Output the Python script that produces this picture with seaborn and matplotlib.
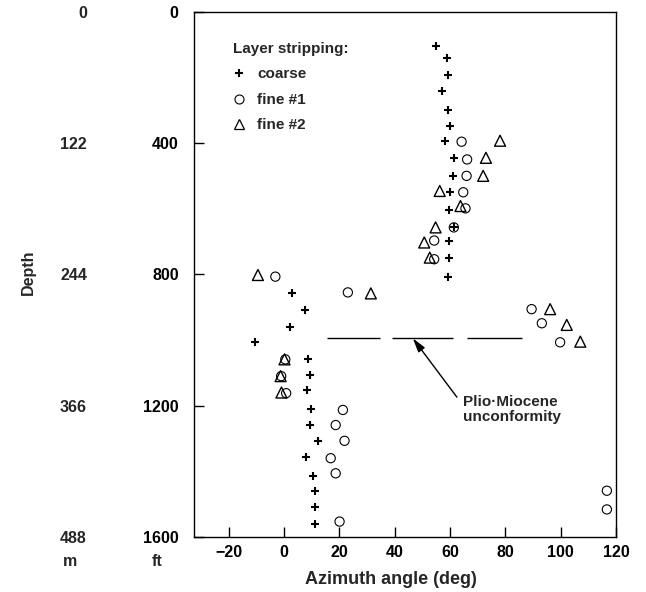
import matplotlib
matplotlib.use("Agg")
import matplotlib.pyplot as plt
import matplotlib.transforms as mtransforms
from matplotlib.lines import Line2D
import seaborn as sns

sns.set_theme(style="ticks")
plt.rcParams["font.family"] = ["Liberation Sans", "DejaVu Sans"]
plt.rcParams["font.weight"] = "bold"
plt.rcParams["axes.labelweight"] = "bold"

# Azimuth estimates versus depth (ft) for three layer-stripping passes
coarse_depth = [104, 142, 193, 241, 299, 348, 393, 447, 499, 550, 605, 657,
                697, 750, 807, 858, 909, 961, 1005, 1058, 1107, 1152, 1211,
                1259, 1307, 1357, 1413, 1459, 1508, 1561]
coarse_azimuth = [55.1, 58.8, 59.3, 57.2, 59.3, 60.0, 58.1, 61.4, 61.2, 60.0,
                  59.6, 61.4, 59.6, 59.6, 59.3, 2.9, 7.5, 2.3, -10.6, 8.7,
                  9.6, 8.3, 9.9, 9.3, 12.3, 7.8, 10.5, 11.4, 11.4, 11.1]

fine1_depth = [396, 450, 500, 550, 599, 657, 697, 754, 807, 855, 906, 949,
               1007, 1059, 1110, 1162, 1213, 1259, 1307, 1360, 1406, 1459,
               1516, 1553]
fine1_azimuth = [64.2, 66.2, 66.0, 64.8, 65.6, 61.4, 54.3, 54.3, -3.1, 23.1,
                 89.5, 93.2, 99.8, 0.5, -1.0, 0.8, 21.3, 18.7, 21.9, 16.9,
                 18.7, 116.7, 116.7, 20.1]

fine2_depth = [393, 445, 500, 546, 592, 657, 703, 749, 802, 858, 906, 954,
               1005, 1059, 1110, 1160]
fine2_azimuth = [78.1, 73.0, 72.0, 56.3, 63.8, 54.8, 50.7, 52.7, -9.4, 31.4,
                 96.2, 102.2, 107.1, 0.2, -1.2, -0.9]

series_labels = ["coarse", "fine #1", "fine #2"]
legend_title = "Layer stripping:"

depth_ticks_ft = [0, 400, 800, 1200, 1600]
depth_labels_m = ["0", "122", "244", "366", "488"]
azimuth_ticks = [-20, 0, 20, 40, 60, 80, 100, 120]

unconformity_depth = 995
unconformity_segments = [(15.7, 34.8), (39.2, 61.0), (66.2, 86.0)]
unconformity_label = "Plio\u00b7Miocene\nunconformity"
arrow_tip = (46.6, 995)
arrow_tail = (62.5, 1174)
label_anchor = (64.7, 1212)

W, H = 646, 592
fig = plt.figure(figsize=(W / 100, H / 100), dpi=100)
ax = fig.add_axes([194 / W, 1 - 537 / H, (616 - 194) / W, (537 - 11.7) / H])

sns.scatterplot(x=coarse_azimuth, y=coarse_depth, marker="+", s=36,
                color="black", linewidth=1.5, ax=ax, legend=False, zorder=3)
sns.scatterplot(x=fine1_azimuth, y=fine1_depth, marker="o", s=44,
                facecolor="none", edgecolor="black", linewidth=0.8, ax=ax,
                legend=False, zorder=3)
sns.scatterplot(x=fine2_azimuth, y=fine2_depth, marker="^", s=62,
                facecolor="none", edgecolor="black", linewidth=1.0, ax=ax,
                legend=False, zorder=3)

# dashed unconformity marker
for x0, x1 in unconformity_segments:
    ax.plot([x0, x1], [unconformity_depth, unconformity_depth],
            color="black", lw=1.0, solid_capstyle="butt")

ax.annotate("", xy=arrow_tip, xytext=arrow_tail,
            arrowprops=dict(arrowstyle="-|>,head_length=0.7,head_width=0.2",
                            color="black", lw=1.0, shrinkA=0, shrinkB=0))
ax.text(*label_anchor, unconformity_label, ha="left", va="center",
        fontsize=11, fontweight="bold", linespacing=1.05)

ax.set_xlim(-32.5, 120)
ax.set_ylim(1600, 0)
ax.set_xticks(azimuth_ticks)
ax.set_xticklabels([f"{t}" if t >= 0 else f"\u2212{abs(t)}" for t in azimuth_ticks])
ax.set_yticks(depth_ticks_ft)
ax.set_yticklabels([str(t) for t in depth_ticks_ft])
ax.tick_params(axis="both", direction="in", length=7, width=1.0,
               labelsize=11.5, colors="black")
ax.tick_params(axis="y", pad=11)
ax.tick_params(axis="x", pad=6)
for lbl in ax.get_xticklabels() + ax.get_yticklabels():
    lbl.set_fontweight("bold")
for sp in ax.spines.values():
    sp.set_linewidth(1.0)
    sp.set_color("black")
ax.set_xlabel("")
ax.set_ylabel("")

# metric depth column
trans = mtransforms.blended_transform_factory(fig.transFigure, ax.transData)
for ft, m in zip(depth_ticks_ft, depth_labels_m):
    fig.text(87 / W, ft, m, transform=trans, ha="right", va="center_baseline",
             fontsize=11.5, fontweight="bold")

fig.text(70 / W, 1 - 562 / H, "m", ha="center", va="center",
         fontsize=11.5, fontweight="bold")
fig.text(157 / W, 1 - 562 / H, "ft", ha="center", va="center",
         fontsize=11.5, fontweight="bold")
fig.text(28 / W, 1 - 272 / H, "Depth", rotation=90, ha="center", va="center",
         fontsize=11.5, fontweight="bold")
fig.text(391 / W, 1 - 579 / H, "Azimuth angle (deg)", ha="center",
         va="center", fontsize=13, fontweight="bold")

handles = [
    Line2D([], [], marker="+", color="black", linestyle="none",
           markersize=6, markeredgewidth=1.5),
    Line2D([], [], marker="o", markerfacecolor="none", markeredgecolor="black",
           linestyle="none", markersize=6.5, markeredgewidth=0.8),
    Line2D([], [], marker="^", markerfacecolor="none", markeredgecolor="black",
           linestyle="none", markersize=7, markeredgewidth=0.9),
]
leg = ax.legend(handles, series_labels, title=legend_title,
                loc="upper left", bbox_to_anchor=(233 / W, 1 - 42 / H),
                bbox_transform=fig.transFigure, frameon=False,
                borderpad=0, borderaxespad=0, handlelength=0.8,
                handletextpad=0.8, labelspacing=0.75, alignment="left",
                prop={"size": 11, "weight": "bold"},
                title_fontproperties={"size": 11, "weight": "bold"})

fig.savefig("out.png", dpi=100, facecolor="white")
